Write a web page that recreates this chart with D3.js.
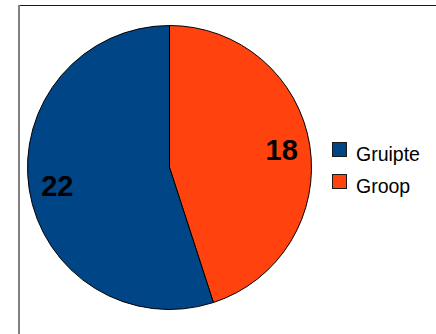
<!DOCTYPE html>
<html>
<head>
<meta charset="utf-8">
<script src="https://cdn.jsdelivr.net/npm/d3@7"></script>
<style>
  html, body { margin: 0; padding: 0; background: #fff; }
  svg { display: block; }
</style>
</head>
<body>
<svg id="chart" width="436" height="334"></svg>
<script>
// Slice data
const categories = ["Gruipte", "Groop"];
const values = [22, 18];
const colors = ["#004586", "#ff420e"];

const svg = d3.select("#chart");
const font = "'Liberation Sans', Arial, sans-serif";

// Chart frame (continues past the right and bottom edges)
svg.append("line")
  .attr("x1", 19).attr("y1", 5.5).attr("x2", 436).attr("y2", 5.5)
  .attr("stroke", "#1a1a1a").attr("stroke-width", 1);
svg.append("rect")
  .attr("x", 18).attr("y", 5).attr("width", 2).attr("height", 329)
  .attr("fill", "#808080");

const cx = 169.5, cy = 167.5, r = 142;

// Groop starts at 12 o'clock and runs clockwise; Gruipte fills the rest
const pieOrder = [1, 0];
const pie = d3.pie().sort(null).value(i => values[i]);
const arcs = pie(pieOrder);
const arc = d3.arc().innerRadius(0).outerRadius(r);

const g = svg.append("g").attr("transform", `translate(${cx},${cy})`);
g.selectAll("path.slice")
  .data(arcs)
  .join("path")
  .attr("class", "slice")
  .attr("d", arc)
  .attr("fill", d => colors[d.data])
  .attr("stroke", "#000")
  .attr("stroke-width", 1)
  .attr("stroke-linejoin", "round");

// Value labels near the outer rim
const labelArc = d3.arc().innerRadius(r * 0.8).outerRadius(r * 0.8);
g.selectAll("text.value")
  .data(arcs)
  .join("text")
  .attr("class", "value")
  .attr("x", d => labelArc.centroid(d)[0])
  .attr("y", d => labelArc.centroid(d)[1])
  .attr("dy", "0.36em")
  .attr("text-anchor", "middle")
  .attr("font-family", font)
  .attr("font-weight", "bold")
  .attr("font-size", 29)
  .attr("fill", "#000")
  .text(d => values[d.data]);

// Legend
const legend = svg.append("g").attr("transform", "translate(332,142)");
const items = legend.selectAll("g")
  .data(categories)
  .join("g")
  .attr("transform", (d, i) => `translate(0,${i * 32})`);
items.append("rect")
  .attr("x", 0.5).attr("y", 0.5)
  .attr("width", 14).attr("height", 14)
  .attr("fill", (d, i) => colors[i])
  .attr("stroke", "#1a1a1a").attr("stroke-width", 1);
items.append("text")
  .attr("x", 24).attr("y", 18.5)
  .attr("font-family", font)
  .attr("font-size", 19.5)
  .attr("fill", "#000")
  .text(d => d);
</script>
</body>
</html>
